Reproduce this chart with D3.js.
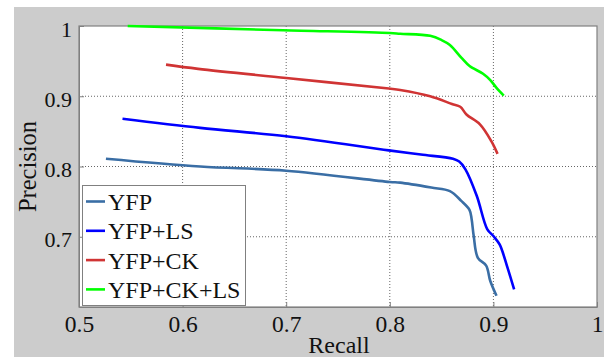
<!DOCTYPE html>
<html>
<head>
<meta charset="utf-8">
<script src="https://cdn.jsdelivr.net/npm/d3@7"></script>
<style>
  body { margin: 0; background: #fff; }
</style>
</head>
<body>
<svg id="chart" width="607" height="357"></svg>
<script>
// series: [recall, precision]
const seriesNames = ["YFP", "YFP+LS", "YFP+CK", "YFP+CK+LS"];
const seriesColors = ["#3a6ea5", "#0000ff", "#d03434", "#00ff00"];

const yfp = [
  [0.526, 0.811], [0.617, 0.800], [0.700, 0.794], [0.800, 0.778], [0.810, 0.777],
  [0.840, 0.770], [0.858, 0.765], [0.869, 0.751], [0.877, 0.738], [0.879, 0.725],
  [0.881, 0.701], [0.885, 0.670], [0.893, 0.659], [0.897, 0.637], [0.903, 0.616]
];
const yfpLs = [
  [0.542, 0.868], [0.617, 0.855], [0.700, 0.843], [0.799, 0.823], [0.830, 0.817],
  [0.861, 0.811], [0.867, 0.807], [0.873, 0.796], [0.884, 0.758], [0.894, 0.711],
  [0.900, 0.701], [0.906, 0.689], [0.913, 0.659], [0.920, 0.625]
];
const yfpCk = [
  [0.584, 0.945], [0.615, 0.939], [0.700, 0.926], [0.799, 0.911], [0.810, 0.909],
  [0.839, 0.900], [0.860, 0.889], [0.868, 0.885], [0.874, 0.874], [0.887, 0.860],
  [0.898, 0.836], [0.904, 0.818]
];
const yfpCkLs = [
  [0.547, 1.000], [0.697, 0.994], [0.800, 0.990], [0.810, 0.989], [0.839, 0.986],
  [0.850, 0.980], [0.858, 0.973], [0.869, 0.955], [0.877, 0.943], [0.890, 0.932],
  [0.897, 0.923], [0.903, 0.912], [0.910, 0.901]
];
const allSeries = [yfp, yfpLs, yfpCk, yfpCkLs];

const xTicks = [0.5, 0.6, 0.7, 0.8, 0.9, 1];
const yTicks = [0.7, 0.8, 0.9, 1];

const serif = "'Liberation Serif', 'Times New Roman', serif";
const svg = d3.select("#chart");
const plotL = 79, plotT = 26, plotR = 597, plotB = 307;

svg.append("rect")
  .attr("x", 14).attr("y", 7).attr("width", 590).attr("height", 350)
  .attr("fill", "#cccccc");

svg.append("rect")
  .attr("x", plotL).attr("y", plotT).attr("width", plotR - plotL).attr("height", plotB - plotT)
  .attr("fill", "#fff");

const x = d3.scaleLinear().domain([0.5, 1]).range([plotL, plotR]);
const y = d3.scaleLinear().domain([0.6, 1]).range([plotB, plotT]);

// grid
svg.append("g")
  .selectAll("line")
  .data(xTicks.slice(1, -1))
  .join("line")
  .attr("x1", d => x(d)).attr("x2", d => x(d))
  .attr("y1", plotT).attr("y2", plotB)
  .attr("stroke", "#666").attr("stroke-width", 1).attr("stroke-dasharray", "1,2");
svg.append("g")
  .selectAll("line")
  .data(yTicks.slice(0, -1))
  .join("line")
  .attr("x1", plotL).attr("x2", plotR)
  .attr("y1", d => y(d)).attr("y2", d => y(d))
  .attr("stroke", "#666").attr("stroke-width", 1).attr("stroke-dasharray", "1,2");

// axes
const fmt = d => d === 1 ? "1" : d3.format(".1f")(d);
const xAxis = svg.append("g")
  .attr("transform", "translate(0," + plotB + ")")
  .call(d3.axisBottom(x).tickValues(xTicks).tickSizeInner(-5).tickSizeOuter(0).tickFormat(fmt));
const yAxis = svg.append("g")
  .attr("transform", "translate(" + plotL + ",0)")
  .call(d3.axisLeft(y).tickValues(yTicks).tickSizeInner(-5).tickSizeOuter(0).tickFormat(fmt));
[xAxis, yAxis].forEach(a => {
  a.attr("font-family", serif);
  a.selectAll("path, line").attr("stroke", "#808080");
  a.selectAll("text").attr("fill", "#111");
});
xAxis.attr("font-size", 23.5);
yAxis.attr("font-size", 22);
xAxis.selectAll("text").attr("y", 25).attr("dy", "0");
yAxis.selectAll("text").attr("x", -7).attr("y", 10).attr("dy", "0");

// frame
svg.append("rect")
  .attr("x", plotL).attr("y", plotT).attr("width", plotR - plotL).attr("height", plotB - plotT)
  .attr("fill", "none").attr("stroke", "#808080").attr("stroke-width", 1.2);

// curves
allSeries.forEach((s, i) => {
  svg.append("path")
    .datum(s)
    .attr("d", d3.line().x(d => x(d[0])).y(d => y(d[1])).curve(d3.curveCatmullRom.alpha(0.5)))
    .attr("fill", "none")
    .attr("stroke", seriesColors[i])
    .attr("stroke-width", 2.6)
    .attr("stroke-linejoin", "round");
});

// axis titles
svg.append("text")
  .attr("x", 339).attr("y", 353)
  .attr("text-anchor", "middle")
  .attr("font-family", serif).attr("font-size", 24).attr("fill", "#111")
  .text("Recall");
svg.append("text")
  .attr("transform", "translate(36,166.5) rotate(-90)")
  .attr("text-anchor", "middle")
  .attr("font-family", serif).attr("font-size", 24.5).attr("fill", "#111")
  .text("Precision");

// legend
const legend = svg.append("g");
legend.append("rect")
  .attr("x", 82.5).attr("y", 185.5).attr("width", 163).attr("height", 120)
  .attr("fill", "#fff").attr("stroke", "#808080").attr("stroke-width", 1);
seriesNames.forEach((name, i) => {
  const base = 210 + i * 29.3;
  legend.append("line")
    .attr("x1", 86).attr("x2", 105).attr("y1", base - 8.5).attr("y2", base - 8.5)
    .attr("stroke", seriesColors[i]).attr("stroke-width", 2.6);
  legend.append("text")
    .attr("x", 108).attr("y", base)
    .attr("font-family", serif).attr("font-size", 24).attr("fill", "#111")
    .text(name);
});
</script>
</body>
</html>
